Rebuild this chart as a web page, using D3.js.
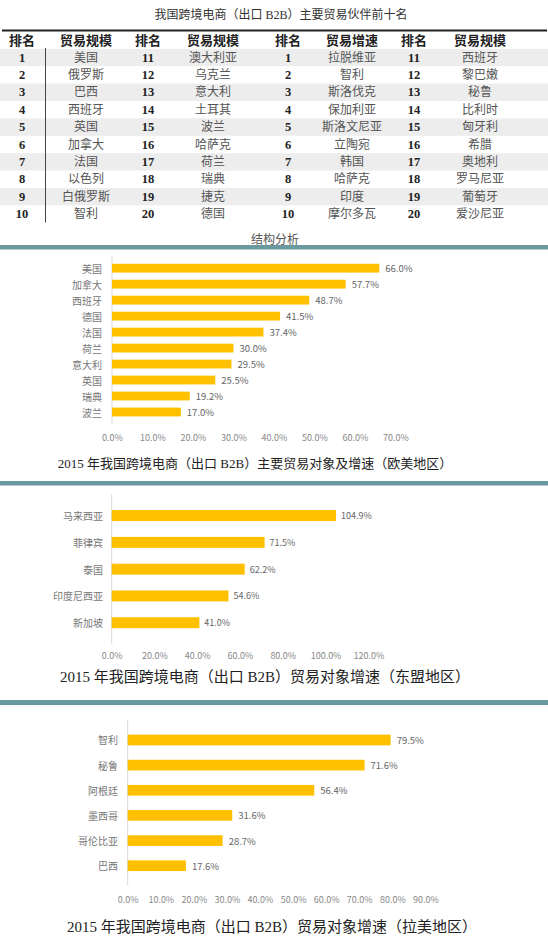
<!DOCTYPE html>
<html lang="zh">
<head>
  <meta charset="UTF-8" />
  <title>跨境电商 出口 B2B</title>
  <style>
    body { margin: 0; background: #fff; }
    svg { display: block; }
    .cjk { font-family: "Liberation Serif", "Noto Sans CJK SC", serif; }
    .sans { font-family: "Noto Sans CJK SC", "Noto Sans", sans-serif; }
  </style>
</head>
<body>
  <svg id="page" width="548" height="940"></svg>

  <script src="https://cdnjs.cloudflare.com/ajax/libs/d3/7.8.4/d3.min.js"></script>
  <script>
    // ---- table data ----
    const tableHeaders = ["排名", "贸易规模", "排名", "贸易规模", "排名", "贸易增速", "排名", "贸易规模"];
    const ranksLow = [1, 2, 3, 4, 5, 6, 7, 8, 9, 10];
    const ranksHigh = [11, 12, 13, 14, 15, 16, 17, 18, 19, 20];
    const scaleTop10 = ["美国", "俄罗斯", "巴西", "西班牙", "英国", "加拿大", "法国", "以色列", "白俄罗斯", "智利"];
    const scaleTop20 = ["澳大利亚", "乌克兰", "意大利", "土耳其", "波兰", "哈萨克", "荷兰", "瑞典", "捷克", "德国"];
    const growthTop10 = ["拉脱维亚", "智利", "斯洛伐克", "保加利亚", "斯洛文尼亚", "立陶宛", "韩国", "哈萨克", "印度", "摩尔多瓦"];
    const growthTop20 = ["西班牙", "黎巴嫩", "秘鲁", "比利时", "匈牙利", "希腊", "奥地利", "罗马尼亚", "葡萄牙", "爱沙尼亚"];

    // ---- chart data ----
    const euCountries = ["美国", "加拿大", "西班牙", "德国", "法国", "荷兰", "意大利", "英国", "瑞典", "波兰"];
    const euGrowth = [66.0, 57.7, 48.7, 41.5, 37.4, 30.0, 29.5, 25.5, 19.2, 17.0];
    const euTicks = [0, 10, 20, 30, 40, 50, 60, 70];

    const aseanCountries = ["马来西亚", "菲律宾", "泰国", "印度尼西亚", "新加坡"];
    const aseanGrowth = [104.9, 71.5, 62.2, 54.6, 41.0];
    const aseanTicks = [0, 20, 40, 60, 80, 100, 120];

    const latamCountries = ["智利", "秘鲁", "阿根廷", "墨西哥", "哥伦比亚", "巴西"];
    const latamGrowth = [79.5, 71.6, 56.4, 31.6, 28.7, 17.6];
    const latamTicks = [0, 10, 20, 30, 40, 50, 60, 70, 80, 90];

    const svg = d3.select("#page");
    const fmt = d => d3.format(".1f")(d) + "%";

    // ---- table ----
    svg.append("text").attr("class", "cjk")
      .attr("x", 281).attr("y", 15).attr("text-anchor", "middle").attr("dominant-baseline", "central")
      .attr("font-size", 12).attr("fill", "#333")
      .text("我国跨境电商（出口 B2B）主要贸易伙伴前十名");

    const colX = [22, 86, 148, 213, 288, 352, 414, 480];
    const rowY = d3.scaleBand().domain(ranksLow).range([48.8, 222.8]);

    const rows = ranksLow.map((r, i) => [r, scaleTop10[i], ranksHigh[i], scaleTop20[i], r, growthTop10[i], ranksHigh[i], growthTop20[i]]);

    svg.append("g").selectAll("rect")
      .data(ranksLow.filter((r, i) => i % 2 === 0))
      .join("rect")
      .attr("x", 0).attr("width", 548)
      .attr("y", d => rowY(d)).attr("height", rowY.bandwidth())
      .attr("fill", "#ededed");

    svg.append("line").attr("x1", 2).attr("x2", 547).attr("y1", 30.5).attr("y2", 30.5)
      .attr("stroke", "#222").attr("stroke-width", 2);
    svg.append("line").attr("x1", 45.5).attr("x2", 45.5).attr("y1", 48).attr("y2", 222.5)
      .attr("stroke", "#444").attr("stroke-width", 1);

    svg.append("g").selectAll("text")
      .data(tableHeaders)
      .join("text").attr("class", "cjk")
      .attr("x", (d, i) => colX[i]).attr("y", 40)
      .attr("text-anchor", "middle").attr("dominant-baseline", "central")
      .attr("font-size", 13).attr("font-weight", "bold").attr("fill", "#222")
      .text(d => d);

    const rowG = svg.append("g").selectAll("g")
      .data(rows)
      .join("g")
      .attr("transform", d => `translate(0,${rowY(d[0]) + rowY.bandwidth() / 2})`);

    rowG.selectAll("text")
      .data(d => d)
      .join("text").attr("class", "cjk")
      .attr("x", (d, i) => colX[i])
      .attr("text-anchor", "middle").attr("dominant-baseline", "central")
      .attr("font-size", (d, i) => i % 2 === 0 ? 12.5 : 12)
      .attr("font-weight", (d, i) => i % 2 === 0 ? "bold" : "normal")
      .attr("fill", (d, i) => i % 2 === 0 ? "#222" : "#555")
      .text(d => d);

    svg.append("text").attr("class", "sans")
      .attr("x", 275).attr("y", 238).attr("text-anchor", "middle").attr("dominant-baseline", "central")
      .attr("font-size", 12).attr("fill", "#555")
      .text("结构分析");

    // ---- dividers ----
    [[245, 4.5], [481, 4.5], [700, 5]].forEach(([y, h]) => {
      svg.append("rect").attr("x", 0).attr("width", 548).attr("y", y).attr("height", h).attr("fill", "#6b99a0");
    });

    // ---- bar charts ----
    function drawBars(cfg) {
      const g = svg.append("g");
      const x = d3.scaleLinear().domain([0, cfg.ticks[cfg.ticks.length - 1]]).range(cfg.xRange);
      const y = d3.scaleBand().domain(cfg.names).range(cfg.yRange).padding(cfg.pad);

      g.append("line")
        .attr("x1", x(0)).attr("x2", x(0))
        .attr("y1", cfg.yRange[0]).attr("y2", cfg.yRange[1])
        .attr("stroke", "#d9d9d9");

      g.selectAll("rect.bar")
        .data(cfg.values)
        .join("rect").attr("class", "bar")
        .attr("x", x(0))
        .attr("y", (d, i) => y(cfg.names[i]))
        .attr("width", d => x(d) - x(0))
        .attr("height", y.bandwidth())
        .attr("fill", "#ffc000");

      g.selectAll("text.val")
        .data(cfg.values)
        .join("text").attr("class", "val sans")
        .attr("x", d => x(d) + cfg.valGap)
        .attr("y", (d, i) => y(cfg.names[i]) + y.bandwidth() / 2)
        .attr("dominant-baseline", "central")
        .attr("font-size", cfg.valSize).attr("fill", "#666")
        .text(fmt);

      g.selectAll("text.cat")
        .data(cfg.names)
        .join("text").attr("class", "cat sans")
        .attr("x", cfg.catX)
        .attr("y", d => y(d) + y.bandwidth() / 2)
        .attr("text-anchor", "end").attr("dominant-baseline", "central")
        .attr("font-size", 10).attr("fill", "#777")
        .text(d => d);

      const axis = d3.axisBottom(x).tickValues(cfg.ticks).tickFormat(fmt).tickSize(0).tickPadding(0);
      const ax = g.append("g").attr("transform", `translate(0,${cfg.tickY})`).call(axis);
      ax.select(".domain").remove();
      ax.selectAll("text").attr("class", "sans").attr("font-size", 9).attr("fill", "#888")
        .attr("dy", null).attr("dominant-baseline", "central");

      g.append("text").attr("class", "cjk")
        .attr("x", cfg.titleX).attr("y", cfg.titleY)
        .attr("text-anchor", "middle").attr("dominant-baseline", "central")
        .attr("font-size", cfg.titleSize).attr("fill", "#222")
        .text(cfg.title);
    }

    drawBars({
      names: euCountries, values: euGrowth, ticks: euTicks,
      xRange: [112, 395.5], yRange: [256.6, 423.6], pad: 0.45,
      catX: 102, valGap: 6, valSize: 9.5, tickY: 437,
      title: "2015 年我国跨境电商（出口 B2B）主要贸易对象及增速（欧美地区）",
      titleX: 255, titleY: 463, titleSize: 13
    });

    drawBars({
      names: aseanCountries, values: aseanGrowth, ticks: aseanTicks,
      xRange: [111.7, 368.3], yRange: [494.3, 644], pad: 0.59,
      catX: 103, valGap: 5, valSize: 9, tickY: 655,
      title: "2015 年我国跨境电商（出口 B2B）贸易对象增速（东盟地区）",
      titleX: 265, titleY: 677, titleSize: 15
    });

    drawBars({
      names: latamCountries, values: latamGrowth, ticks: latamTicks,
      xRange: [127.7, 425.4], yRange: [720.2, 885.5], pad: 0.575,
      catX: 118, valGap: 6, valSize: 9.5, tickY: 899,
      title: "2015 年我国跨境电商（出口 B2B）贸易对象增速（拉美地区）",
      titleX: 272, titleY: 927, titleSize: 15
    });
  </script>
</body>
</html>
